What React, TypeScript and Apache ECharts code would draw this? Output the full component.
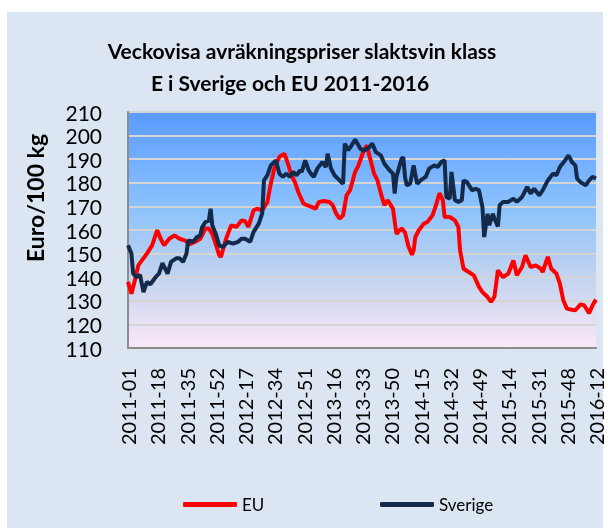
import React, { useEffect, useRef } from "react";
import * as echarts from "echarts";

const TICK_LABELS = [
  "2011-01", "2011-18", "2011-35", "2011-52", "2012-17", "2012-34", "2012-51",
  "2013-16", "2013-33", "2013-50", "2014-15", "2014-32", "2014-49", "2015-14",
  "2015-31", "2015-48", "2016-12",
];

// [week index from 2011-01, Euro/100 kg]
const EU: [number, number][] = [
  [0, 138], [2, 133], [4, 138.7], [6, 145], [8, 147], [11, 150], [14, 153.5], [17, 159.9],
  [19, 156.3], [21, 153.5], [24, 156.3], [27, 157.7], [30, 156.3], [33, 155.6], [36, 154],
  [39, 155], [42, 156.3], [45, 160.6], [47, 160.6], [49, 158.4], [51, 154], [53, 149.3],
  [54, 148.6], [57, 156.3], [60, 162], [63, 161.3], [66, 164], [68, 163.8], [70, 161.3],
  [73, 168.3], [75, 169], [78, 168.3], [81, 171.9], [83, 179.6], [85, 186], [88, 191],
  [91, 192.3], [93, 188], [95, 183.2], [97, 180.3], [99, 176], [102, 171.2], [104, 170.5],
  [107, 169.7], [109, 169], [111, 171.9], [114, 172.3], [117, 171.9], [119, 170.5],
  [121, 166.9], [123, 164.8], [125, 166.2], [127, 174.7], [129, 176.8], [132, 184.6],
  [134, 187.4], [137, 193.8], [139, 195.9], [140, 192.3], [143, 183.9], [145, 181],
  [147, 175.4], [149, 170.5], [151, 172.6], [154, 169], [156, 158.4], [159, 160.7],
  [161, 159], [163, 153], [165, 149.5], [166, 151.4], [167, 157], [169, 159.9], [172, 162.7],
  [174, 163.4], [177, 166.2], [179, 170.5], [181, 175.6], [183, 172.6], [184, 165.5],
  [187, 165.5], [190, 164.1], [192, 161.3], [193, 151.4], [195, 143.6], [198, 142.2],
  [201, 140.8], [204, 135.9], [206, 133.7], [209, 131.6], [211, 129.5], [213, 131.8],
  [215, 142.9], [218, 140], [221, 141.5], [224, 147.1], [226, 140.8], [229, 144.3],
  [231, 149.3], [234, 144.3], [237, 145], [240, 143.6], [241, 142.2], [244, 148.6],
  [246, 143.6], [249, 141.5], [251, 137.3], [253, 130.2], [255, 126.7], [258, 126.2],
  [260, 126], [263, 128.5], [265, 128.1], [266, 127.1], [268, 124.8], [270, 128.1],
  [272, 130.5],
];

const SVERIGE: [number, number][] = [
  [0, 153.5], [2, 150], [3, 141.5], [5, 140], [7, 141], [9, 133.7], [11, 138], [13, 137],
  [16, 140], [18, 141.5], [20, 146], [23, 141.5], [25, 146.5], [28, 148], [30, 148],
  [32, 146.5], [34, 150], [35, 155.6], [38, 155], [40, 157], [42, 157.7], [43, 161],
  [45, 163.4], [47, 164], [48, 169], [49, 162], [51, 158.4], [53, 153.5], [55, 152.8],
  [58, 155], [61, 154.2], [64, 155], [66, 156.3], [68, 156.3], [71, 155], [73, 159.2],
  [76, 162.7], [78, 167], [79, 181], [81, 183.2], [83, 187.4], [86, 189.5], [88, 183.9],
  [90, 182.5], [92, 183.9], [94, 182.5], [96, 184.6], [98, 183.2], [100, 185.3],
  [101, 184.6], [103, 189.5], [105, 185.3], [107, 183.2], [108, 182.5], [110, 186],
  [113, 188.8], [115, 186.7], [116, 192.3], [118, 186], [120, 183.2], [123, 181],
  [125, 179.6], [126, 196.6], [128, 193.8], [130, 195.9], [132, 198.3], [135, 194.5],
  [137, 193.5], [140, 194.9], [142, 196.6], [144, 193], [147, 191.6], [149, 188.1],
  [152, 185.3], [154, 183.9], [155, 175.4], [156, 182.5], [159, 190.2], [160, 190.9],
  [161, 182.5], [162, 178.9], [164, 179.6], [166, 187.4], [168, 179.6], [170, 181],
  [173, 182.5], [175, 186], [178, 187.4], [180, 186.7], [182, 188.8], [184, 189.5],
  [185, 174], [187, 173.3], [188, 184.6], [190, 172.6], [192, 171.9], [194, 172.6],
  [195, 181], [197, 180.3], [200, 176.8], [202, 177.5], [204, 176.8], [206, 169.7],
  [207, 157], [209, 166.9], [210, 162], [212, 166.9], [213, 164.8], [215, 161.5],
  [216, 170.5], [218, 171.9], [221, 171.9], [224, 173.3], [226, 171.9], [229, 174],
  [232, 178.2], [234, 175.4], [236, 177.5], [239, 174.7], [241, 176.8], [244, 181],
  [247, 183.9], [249, 183.2], [251, 186.7], [254, 189.5], [256, 191.6], [258, 188.8],
  [260, 187.4], [261, 181.8], [263, 180.3], [266, 178.9], [268, 181], [270, 182.5],
  [272, 181.8],
];

const FONT = "Lato, 'Open Sans', sans-serif";

export default function App() {
  const ref = useRef<HTMLDivElement>(null);
  useEffect(() => {
    if (!ref.current) return;
    const chart = echarts.init(ref.current, undefined, { renderer: "svg" });
    chart.setOption({
      animation: false,
      textStyle: { fontFamily: FONT },
      graphic: [
        {
          type: "rect",
          z: -10,
          silent: true,
          shape: { x: 7, y: 12, width: 596, height: 516 },
          style: { fill: "#DCE6F2" },
        },
        {
          type: "text",
          x: 302,
          y: 50,
          style: {
            text: "Veckovisa avräkningspriser slaktsvin klass",
            font: `bold 21px ${FONT}`,
            fill: "#000",
            align: "center",
            verticalAlign: "middle",
          },
        },
        {
          type: "text",
          x: 290,
          y: 82,
          style: {
            text: "E i Sverige och EU 2011-2016",
            font: `bold 21px ${FONT}`,
            fill: "#000",
            align: "center",
            verticalAlign: "middle",
          },
        },
        {
          type: "text",
          x: 35,
          y: 198,
          rotation: Math.PI / 2,
          style: {
            text: "Euro/100 kg",
            font: `bold 23px ${FONT}`,
            fill: "#000",
            align: "center",
            verticalAlign: "middle",
          },
        },
      ],
      legend: [
        {
          data: ["EU"],
          left: 178,
          top: 491,
          itemWidth: 54,
          itemHeight: 5,
          icon: "roundRect",
          itemGap: 5,
          textStyle: { fontSize: 17, color: "#000", fontFamily: FONT },
        },
        {
          data: ["Sverige"],
          left: 375,
          top: 491,
          itemWidth: 54,
          itemHeight: 5,
          icon: "roundRect",
          textStyle: { fontSize: 17, color: "#000", fontFamily: FONT },
        },
      ],
      grid: {
        left: 128,
        right: 12,
        top: 112,
        bottom: 180,
        show: true,
        borderWidth: 0,
        backgroundColor: new echarts.graphic.LinearGradient(0, 0, 0, 1, [
          { offset: 0, color: "#5A9BFF" },
          { offset: 0.4, color: "#8BC2FD" },
          { offset: 0.7, color: "#C3D3EE" },
          { offset: 1, color: "#FBE8F8" },
        ]),
      },
      xAxis: {
        type: "value",
        min: 0,
        max: 272,
        interval: 17,
        axisLine: { show: true, lineStyle: { color: "#8C8C8C", width: 2 } },
        axisTick: { show: false },
        splitLine: { show: false },
        axisLabel: {
          rotate: 90,
          margin: 20,
          fontSize: 20,
          lineHeight: 17,
          color: "#000",
          fontFamily: FONT,
          formatter: (v: number) => TICK_LABELS[Math.round(v / 17)] ?? "",
        },
      },
      yAxis: {
        type: "value",
        min: 110,
        max: 210,
        interval: 10,
        axisLine: { show: true, lineStyle: { color: "#8C8C8C", width: 2 } },
        axisTick: { show: false },
        splitLine: { show: true, lineStyle: { color: "#D4D4D4", width: 2 } },
        axisLabel: {
          fontSize: 21,
          lineHeight: 21,
          color: "#000",
          margin: 26,
          fontFamily: FONT,
        },
      },
      series: [
        {
          name: "EU",
          type: "line",
          data: EU,
          showSymbol: false,
          symbol: "none",
          lineStyle: { color: "#FF0000", width: 4 },
          itemStyle: { color: "#FF0000" },
        },
        {
          name: "Sverige",
          type: "line",
          data: SVERIGE,
          showSymbol: false,
          symbol: "none",
          lineStyle: { color: "#142A4A", width: 4 },
          itemStyle: { color: "#142A4A" },
        },
      ],
    });
    return () => chart.dispose();
  }, []);
  return (
    <div
      ref={ref}
      style={{ position: "fixed", left: 0, top: 0, width: 608, height: 528 }}
    />
  );
}
